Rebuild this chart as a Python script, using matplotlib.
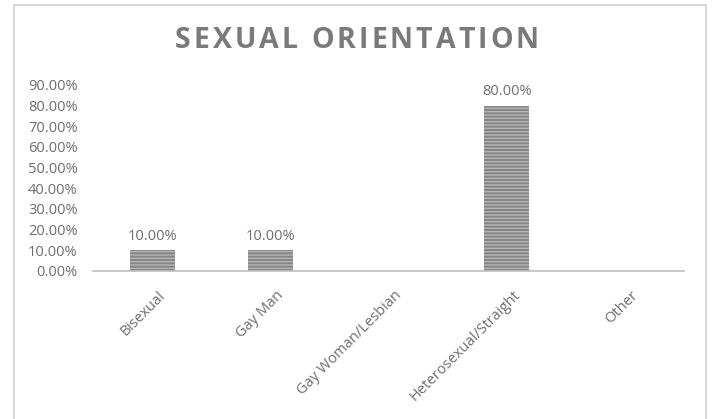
import matplotlib.pyplot as plt
from matplotlib.patches import Rectangle
from matplotlib.transforms import ScaledTranslation
import numpy as np

categories = ["Bisexual", "Gay Man", "Gay Woman/Lesbian", "Heterosexual/Straight", "Other"]
values = [0.10, 0.10, 0.0, 0.80, 0.0]
labels = ["10.00%", "10.00%", None, "80.00%", None]
title = "SEXUAL ORIENTATION"

plt.rcParams['font.family'] = ['Open Sans', 'DejaVu Sans']
plt.rcParams['hatch.linewidth'] = 1.0

fig = plt.figure(figsize=(7.12, 4.19), dpi=100)
# chart border
fig.patches.append(Rectangle((14 / 712, -0.01), 692 / 712, 1 - 5 / 419 + 0.01,
                             transform=fig.transFigure, fill=False,
                             edgecolor='#d0d0d0', linewidth=1.2))

ax = fig.add_axes([93 / 712, 1 - 271 / 419, (684 - 93) / 712, (271 - 85) / 419])
x = np.arange(len(categories))
bars = ax.bar(x, values, width=0.38, color='#858585', edgecolor='#b5b5b5',
              hatch='-----', linewidth=0)

txt_col = '#6e6e6e'
for b, lab in zip(bars, labels):
    if lab:
        ax.text(b.get_x() + b.get_width() / 2, b.get_height() + 0.03, lab,
                ha='center', va='bottom', fontsize=10.5, color=txt_col)

ax.set_xlim(-0.5, len(categories) - 0.5)
ax.set_ylim(0, 0.9)
ax.set_yticks(np.arange(0, 0.91, 0.1))
ax.set_yticklabels([f"{v * 100:.2f}%" for v in np.arange(0, 0.91, 0.1)],
                   fontsize=10.5, color=txt_col)
ax.set_xticks(x)
ax.set_xticklabels(categories, rotation=45, ha='right', rotation_mode='anchor',
                   fontsize=10.5, color=txt_col)
ax.tick_params(axis='y', length=0, pad=11)
ax.tick_params(axis='x', length=0, pad=12)
off = ScaledTranslation(6 / 100, 0, fig.dpi_scale_trans)
for t in ax.get_xticklabels():
    t.set_transform(t.get_transform() + off)
for s in ['top', 'right', 'left']:
    ax.spines[s].set_visible(False)
ax.spines['bottom'].set_color('#bfbfbf')
ax.spines['bottom'].set_linewidth(1.2)

# title with wide letter spacing, placed letter by letter
tsize = 20.5
fig.canvas.draw()
r = fig.canvas.get_renderer()
spacing = 3.0
parts = [fig.text(0, 0, ch, fontsize=tsize, fontweight='bold', color='#7a7a7a', va='center')
         for ch in title]
tmp = fig.text(0, 0, "S S", fontsize=tsize, fontweight='bold')
space_w = tmp.get_window_extent(r).width - 2 * parts[0].get_window_extent(r).width
tmp.remove()
widths = [p.get_window_extent(r).width if ch != ' ' else space_w
          for p, ch in zip(parts, title)]
total = sum(widths) + spacing * (len(title) - 1)
xpos = 357 - total / 2
for p, w in zip(parts, widths):
    p.set_position((xpos / 712, 1 - 41 / 419))
    xpos += w + spacing

fig.savefig('out.png', dpi=100)
